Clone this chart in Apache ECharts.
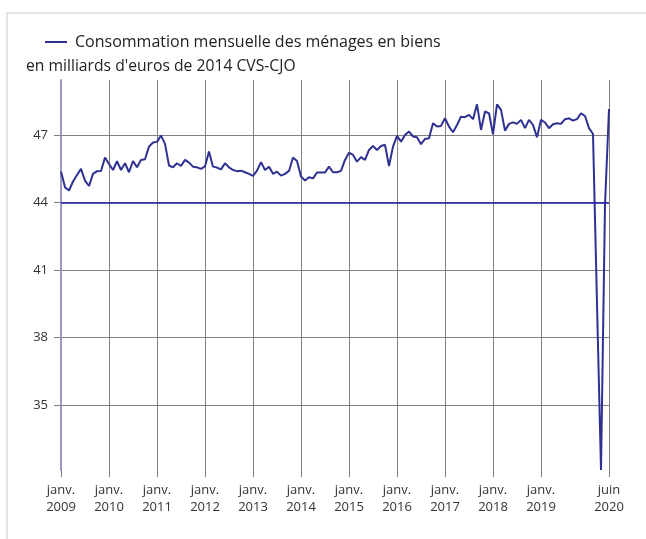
<!DOCTYPE html>
<html>
<head>
<meta charset="utf-8">
<script src="https://cdn.jsdelivr.net/npm/echarts@6/dist/echarts.min.js"></script>
<style>
html,body{margin:0;padding:0;background:#fff;}
#chart{width:646px;height:539px;}
</style>
</head>
<body>
<div id="chart"></div>
<script>
// Monthly household consumption of goods (bn euros 2014, CVS-CJO)
var v2009 = [45.37, 44.67, 44.53, 44.93, 45.22, 45.49, 44.97, 44.73, 45.27, 45.39, 45.40, 46.00];
var v2010 = [45.71, 45.44, 45.83, 45.44, 45.74, 45.34, 45.84, 45.56, 45.89, 45.92, 46.48, 46.66];
var v2011 = [46.69, 46.97, 46.60, 45.64, 45.56, 45.74, 45.62, 45.89, 45.77, 45.59, 45.56, 45.49];
var v2012 = [45.60, 46.26, 45.59, 45.55, 45.47, 45.74, 45.56, 45.44, 45.39, 45.41, 45.34, 45.27];
var v2013 = [45.18, 45.41, 45.79, 45.44, 45.59, 45.27, 45.37, 45.19, 45.27, 45.40, 46.00, 45.84];
var v2014 = [45.15, 44.97, 45.12, 45.07, 45.33, 45.33, 45.33, 45.59, 45.34, 45.34, 45.40, 45.89];
var v2015 = [46.21, 46.11, 45.81, 46.01, 45.89, 46.33, 46.51, 46.33, 46.51, 46.56, 45.62, 46.48];
var v2016 = [46.96, 46.70, 47.00, 47.15, 46.93, 46.90, 46.59, 46.82, 46.85, 47.52, 47.37, 47.40];
var v2017 = [47.74, 47.37, 47.12, 47.44, 47.81, 47.79, 47.89, 47.70, 48.36, 47.22, 48.04, 47.96];
var v2018 = [47.03, 48.36, 48.11, 47.19, 47.49, 47.56, 47.49, 47.67, 47.30, 47.67, 47.44, 46.90];
var v2019 = [47.67, 47.55, 47.30, 47.47, 47.52, 47.49, 47.70, 47.74, 47.64, 47.70, 47.96, 47.84];
var v2020 = [47.30, 47.04, 39.50, 32.11, 43.90, 48.15];

var years = [2009, 2010, 2011, 2012, 2013, 2014, 2015, 2016, 2017, 2018, 2019, 2020];
var yearValues = [v2009, v2010, v2011, v2012, v2013, v2014, v2015, v2016, v2017, v2018, v2019, v2020];
var monthNames = ['janv.', 'févr.', 'mars', 'avr.', 'mai', 'juin', 'juil.', 'août', 'sept.', 'oct.', 'nov.', 'déc.'];
var xTickLabels = ['2009-01', '2010-01', '2011-01', '2012-01', '2013-01', '2014-01', '2015-01', '2016-01', '2017-01', '2018-01', '2019-01', '2020-06'];
var yTicks = [35, 38, 41, 44, 47];
var refLine = 44;
var seriesName = 'Consommation mensuelle des ménages en biens';
var unitText = "en milliards d'euros de 2014 CVS-CJO";

var categories = [];
var values = [];
years.forEach(function (yr, i) {
  yearValues[i].forEach(function (v, m) {
    categories.push(yr + '-' + (m + 1 < 10 ? '0' : '') + (m + 1));
    values.push(v);
  });
});
function shown(idx) { return xTickLabels.indexOf(categories[idx]) >= 0; }

var FONT = '"Open Sans", "Noto Sans", sans-serif';
var chart = echarts.init(document.getElementById('chart'), null, {renderer: 'canvas'});
chart.setOption({
  animation: false,
  backgroundColor: '#fff',
  textStyle: {fontFamily: FONT},
  graphic: [{
    type: 'rect', silent: true, z: -10,
    shape: {x: 7, y: 13, width: 700, height: 600},
    style: {fill: 'none', stroke: '#e3e3e3', lineWidth: 2}
  }],
  title: {
    text: unitText, left: 26, top: 59, padding: 0,
    textStyle: {fontSize: 15.7, fontWeight: 'normal', color: '#222', fontFamily: FONT}
  },
  legend: {
    left: 45, top: 34, padding: 0, itemWidth: 22, itemHeight: 14, itemGap: 8,
    textStyle: {fontSize: 16, color: '#222', fontFamily: FONT, padding: [0, 0, 0, 3]},
    data: [{name: seriesName, icon: 'path://M0,6 L22,6 L22,8 L0,8 Z'}]
  },
  grid: {left: 61, right: 37, top: 80, bottom: 69, containLabel: false},
  xAxis: {
    type: 'category', data: categories, boundaryGap: false,
    axisLine: {show: false},
    axisTick: {show: true, interval: shown, length: 7, lineStyle: {color: '#808080'}},
    splitLine: {show: true, interval: shown, lineStyle: {color: '#808080', width: 1}},
    axisLabel: {
      interval: shown, margin: 12, fontSize: 13, color: '#333', lineHeight: 17,
      fontFamily: FONT, hideOverlap: false,
      formatter: function (val) {
        var p = val.split('-');
        return monthNames[parseInt(p[1], 10) - 1] + '\n' + p[0];
      }
    }
  },
  yAxis: {
    type: 'value', min: 32.11, max: 49.44,
    axisLine: {show: true, lineStyle: {color: '#9a9ac4', width: 2}},
    axisTick: {show: true, length: 7, customValues: yTicks, lineStyle: {color: '#808080'}},
    axisLabel: {customValues: yTicks, margin: 13, fontSize: 13, color: '#333', fontFamily: FONT},
    splitLine: {show: true, lineStyle: {color: '#808080', width: 1}}
  },
  series: [{
    name: seriesName, type: 'line', data: values,
    symbol: 'none', smooth: false,
    lineStyle: {color: '#2e3192', width: 2},
    itemStyle: {color: '#2e3192'},
    markLine: {
      silent: true, symbol: 'none', animation: false,
      label: {show: false},
      lineStyle: {color: '#1c1c9c', width: 1.5, type: 'solid'},
      data: [{yAxis: refLine}]
    }
  }]
});
</script>
</body>
</html>
